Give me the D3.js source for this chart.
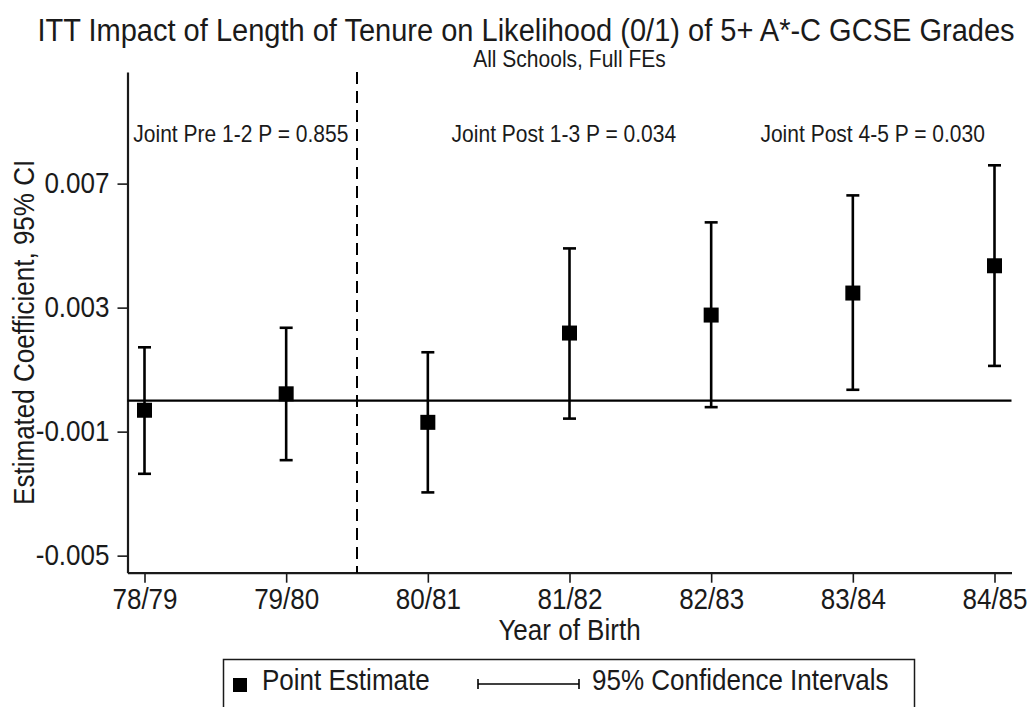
<!DOCTYPE html>
<html>
<head>
<meta charset="utf-8">
<script src="https://cdn.jsdelivr.net/npm/d3@7"></script>
<style>
  html, body { margin: 0; padding: 0; background: #fff; }
  svg { display: block; font-family: "Liberation Sans", Arial, sans-serif; }
</style>
</head>
<body>
<svg id="chart" width="1034" height="707"></svg>
<script>
// ---- Data ----
const categories = ["78/79", "79/80", "80/81", "81/82", "82/83", "83/84", "84/85"];
const estimates  = [-0.00031, 0.00022, -0.00070, 0.00218, 0.00276, 0.00347, 0.00435];
const ciLower    = [-0.00236, -0.00192, -0.00296, -0.00058, -0.00021, 0.00035, 0.00112];
const ciUpper    = [0.00172, 0.00235, 0.00156, 0.00491, 0.00575, 0.00662, 0.00759];
const yTicks     = [-0.005, -0.001, 0.003, 0.007];
const yTickLabels = ["-0.005", "-0.001", "0.003", "0.007"];
const annotationLabels = ["Joint Pre 1-2 P = 0.855", "Joint Post 1-3 P = 0.034", "Joint Post 4-5 P = 0.030"];
const annotationX      = [0.68, 2.96, 5.14];   // in category-index units
const annotationY      = [0.0086, 0.0086, 0.0086];
const cutoffIndex = 1.5;  // dashed vertical line between 79/80 and 80/81

const titleText    = "ITT Impact of Length of Tenure on Likelihood (0/1) of 5+ A*-C GCSE Grades";
const subtitleText = "All Schools, Full FEs";
const xTitle = "Year of Birth";
const yTitle = "Estimated Coefficient, 95% CI";
const legendLabels = ["Point Estimate", "95% Confidence Intervals"];

// ---- Layout ----
const svg = d3.select("#chart");
const plot = { left: 127.5, right: 1011.5, top: 72, bottom: 572.7 };
const ink = "#1a1a1a";
const FONT = "Liberation Sans, Arial, sans-serif";
const TALL = 1.1, NARROW = 0.91;   // glyphs in the reference are taller and narrower than Arial

// horizontally compress text by a transform so bounding boxes stay correct
function condense(sel) {
  sel.each(function () {
    const el = d3.select(this);
    const tx = +(el.attr("x") || 0), ty = +(el.attr("y") || 0);
    const prev = el.attr("transform") || "";
    el.attr("x", 0).attr("y", 0)
      .attr("transform", `${prev} translate(${tx},${ty}) scale(${NARROW},1)`);
  });
}

const x = d3.scaleLinear().domain([-0.12, 6.12]).range([plot.left, plot.right]);
const y = d3.scaleLinear().domain([-0.00555, 0.0106]).range([plot.bottom, plot.top]);

// Title & subtitle
svg.append("text")
  .attr("x", 526).attr("y", 41)
  .attr("text-anchor", "middle")
  .attr("font-size", 29 * TALL).attr("fill", ink)
  .text(titleText).call(condense);
svg.append("text")
  .attr("x", (plot.left + plot.right) / 2).attr("y", 67)
  .attr("text-anchor", "middle")
  .attr("font-size", 21 * TALL).attr("fill", ink)
  .text(subtitleText).call(condense);

// Axes
const xAxis = d3.axisBottom(x)
  .tickValues(d3.range(categories.length))
  .tickFormat(i => categories[i])
  .tickSize(10).tickSizeOuter(0).tickPadding(6);
const gx = svg.append("g").attr("transform", `translate(0,${plot.bottom})`).call(xAxis);
gx.select(".domain").attr("stroke", ink).attr("stroke-width", 2.2);
gx.selectAll(".tick line").attr("stroke", ink).attr("stroke-width", 1.6);
gx.selectAll(".tick text").attr("font-size", 26 * TALL).attr("fill", ink)
  .attr("font-family", FONT).call(condense);

const yAxis = d3.axisLeft(y)
  .tickValues(yTicks)
  .tickFormat((d, i) => yTickLabels[i])
  .tickSize(10).tickSizeOuter(0).tickPadding(8);
const gy = svg.append("g").attr("transform", `translate(${plot.left},0)`).call(yAxis);
gy.select(".domain").attr("stroke", ink).attr("stroke-width", 2.2);
gy.selectAll(".tick line").attr("stroke", ink).attr("stroke-width", 1.6);
gy.selectAll(".tick text").attr("font-size", 26 * TALL).attr("fill", ink)
  .attr("font-family", FONT).call(condense);

// Axis titles
svg.append("text")
  .attr("x", (plot.left + plot.right) / 2).attr("y", 640)
  .attr("text-anchor", "middle")
  .attr("font-size", 26 * TALL).attr("fill", ink)
  .text(xTitle).call(condense);
svg.append("text")
  .attr("transform", `translate(24,${(plot.top + plot.bottom) / 2 + 10}) rotate(-90)`)
  .attr("text-anchor", "middle")
  .attr("dominant-baseline", "central")
  .attr("font-size", 26 * TALL).attr("fill", ink)
  .text(yTitle).call(condense);

// Zero reference line
svg.append("line")
  .attr("x1", plot.left).attr("x2", plot.right)
  .attr("y1", y(0)).attr("y2", y(0))
  .attr("stroke", "#000").attr("stroke-width", 2.2);

// Dashed cutoff line
svg.append("line")
  .attr("x1", x(cutoffIndex)).attr("x2", x(cutoffIndex))
  .attr("y1", plot.top).attr("y2", plot.bottom)
  .attr("stroke", "#000").attr("stroke-width", 2)
  .attr("stroke-dasharray", "12,7");

// Annotations
svg.selectAll("text.annot")
  .data(annotationLabels)
  .join("text")
  .attr("class", "annot")
  .attr("x", (d, i) => x(annotationX[i]))
  .attr("y", (d, i) => y(annotationY[i]))
  .attr("text-anchor", "middle")
  .attr("dominant-baseline", "central")
  .attr("font-size", 21 * TALL).attr("fill", ink)
  .text(d => d).call(condense);

// Error bars
const capW = 13;
const eb = svg.append("g").selectAll("g").data(categories).join("g");
eb.append("line")
  .attr("x1", (d, i) => x(i)).attr("x2", (d, i) => x(i))
  .attr("y1", (d, i) => y(ciLower[i])).attr("y2", (d, i) => y(ciUpper[i]))
  .attr("stroke", "#000").attr("stroke-width", 2.6);
eb.append("line")
  .attr("x1", (d, i) => x(i) - capW / 2).attr("x2", (d, i) => x(i) + capW / 2)
  .attr("y1", (d, i) => y(ciUpper[i])).attr("y2", (d, i) => y(ciUpper[i]))
  .attr("stroke", "#000").attr("stroke-width", 2.6);
eb.append("line")
  .attr("x1", (d, i) => x(i) - capW / 2).attr("x2", (d, i) => x(i) + capW / 2)
  .attr("y1", (d, i) => y(ciLower[i])).attr("y2", (d, i) => y(ciLower[i]))
  .attr("stroke", "#000").attr("stroke-width", 2.6);

// Point estimates (squares)
const sq = 15;
svg.append("g").selectAll("rect").data(estimates).join("rect")
  .attr("x", (d, i) => x(i) - sq / 2)
  .attr("y", d => y(d) - sq / 2)
  .attr("width", sq).attr("height", sq)
  .attr("fill", "#000");

// Legend
const lg = svg.append("g");
lg.append("rect")
  .attr("x", 223.5).attr("y", 659.5).attr("width", 691).attr("height", 60)
  .attr("fill", "none").attr("stroke", ink).attr("stroke-width", 1.5);
lg.append("rect")
  .attr("x", 233).attr("y", 678).attr("width", 14).attr("height", 14).attr("fill", "#000");
lg.append("text")
  .attr("x", 262).attr("y", 690)
  .attr("font-size", 26 * TALL).attr("fill", ink)
  .text(legendLabels[0]).call(condense);
const ly = 684;
lg.append("line").attr("x1", 478).attr("x2", 579).attr("y1", ly).attr("y2", ly)
  .attr("stroke", "#000").attr("stroke-width", 1.6);
lg.append("line").attr("x1", 478).attr("x2", 478).attr("y1", ly - 5).attr("y2", ly + 5)
  .attr("stroke", "#000").attr("stroke-width", 1.6);
lg.append("line").attr("x1", 579).attr("x2", 579).attr("y1", ly - 5).attr("y2", ly + 5)
  .attr("stroke", "#000").attr("stroke-width", 1.6);
lg.append("text")
  .attr("x", 592).attr("y", 690)
  .attr("font-size", 26 * TALL).attr("fill", ink)
  .text(legendLabels[1]).call(condense);
</script>
</body>
</html>
